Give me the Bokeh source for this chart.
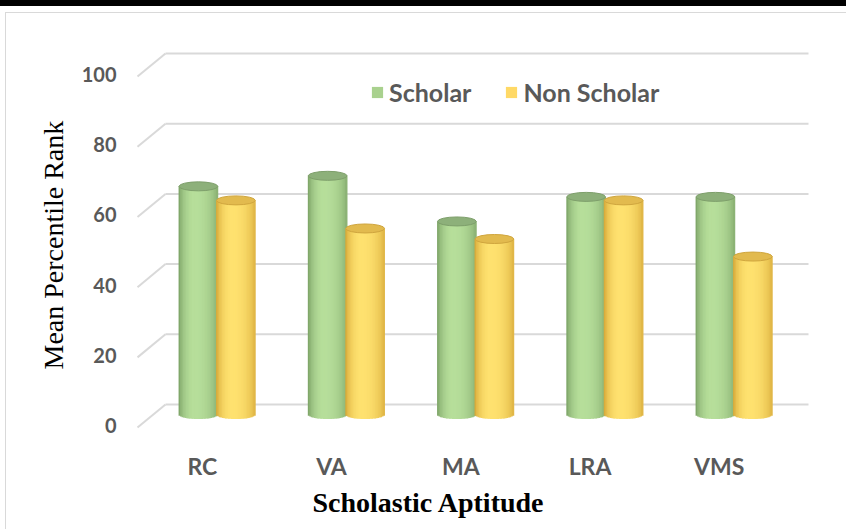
import numpy as np
from bokeh.plotting import figure
from bokeh.models import (Range1d, LinearAxis, FixedTicker, Legend, LegendItem,
                          ColumnDataSource, Title)
from bokeh.embed import file_html
from bokeh.resources import INLINE

# ---------------- data ----------------
categories = ["RC", "VA", "MA", "LRA", "VMS"]
scholar = [65, 68, 55, 62, 62]
non_scholar = [61, 53, 50, 61, 45]
series_names = ["Scholar", "Non Scholar"]
y_ticks = [0, 20, 40, 60, 80, 100]
x_title = "Scholastic Aptitude"
y_title = "Mean Percentile Rank"

# ---------------- geometry / style ----------------
W, H = 846, 529
frame_left, frame_right, frame_top, frame_bottom = 128, 846, 0, 445   # page px
x0_px, x_pitch = 216, 129.25        # page px of group 0 centre, px per category
y0_px, y_scale = 414, 3.51          # page px of value 0, px per unit

x_start = (frame_left - x0_px) / x_pitch
x_end = (frame_right - x0_px) / x_pitch
y_end = (y0_px - frame_top) / y_scale
y_start = (y0_px - frame_bottom) / y_scale

front_shift = 3.13    # front tick labels sit lower than the back wall
back_shift = 2.85     # back wall grid lines
label_shift = 0.11    # category labels shifted left (perspective)

bar_w = 0.30
offsets = [-0.14, 0.15]
light = [(183, 223, 155), (255, 226, 112)]
dark = [(112, 150, 92), (206, 156, 44)]
top_col = ["#8DB07A", "#E2BA4E"]
top_line = ["#7E9F6B", "#CFA53E"]
legend_col = ["#A9D18E", "#FFD966"]
cap_h = 9 / y_scale
n_strips = 26

p = figure(width=W, height=H,
           x_range=Range1d(x_start, x_end), y_range=Range1d(y_start, y_end),
           x_axis_location=None, y_axis_location=None,
           min_border_left=frame_left, min_border_right=0,
           min_border_top=0, min_border_bottom=H - frame_bottom,
           output_backend="svg", toolbar_location=None)
p.outline_line_color = None
p.grid.visible = False
p.border_fill_color = None
p.background_fill_color = None
p.styles = {"box-shadow": "inset 0 6px 0 0 #000000, inset 0 12px 0 0 #ffffff, "
                          "inset 5px 0 0 0 #ffffff, inset 0 13px 0 0 #d9d9d9, "
                          "inset 6px 0 0 0 #d9d9d9"}

# ---------------- back wall grid (perspective) ----------------
gx0 = (137 - x0_px) / x_pitch
gx1 = (165 - x0_px) / x_pitch
gx2 = (808 - x0_px) / x_pitch
gt = np.array(y_ticks, dtype=float)
p.segment(x0=[gx1] * len(gt), y0=gt + back_shift, x1=[gx2] * len(gt), y1=gt + back_shift,
          line_color="#D9D9D9", line_width=2)
p.segment(x0=[gx0] * len(gt), y0=gt - front_shift - 0.6, x1=[gx1] * len(gt), y1=gt + back_shift,
          line_color="#D9D9D9", line_width=2)

# ---------------- cylinders ----------------
def shade(t, k):
    s = np.cos(np.clip((t - 0.42) / (0.58 if t > 0.42 else 0.42), -1, 1) * np.pi / 2) ** 0.55
    if t > 0.42:
        s = 0.25 + 0.75 * s
    c = [int(dark[k][i] + (light[k][i] - dark[k][i]) * s) for i in range(3)]
    return "#%02x%02x%02x" % tuple(c)

legend_renderers = []
for k, vals in enumerate([scholar, non_scholar]):
    xs, tops, bottoms, cols = [], [], [], []
    for i, v in enumerate(vals):
        c = i + offsets[k]
        for j in range(n_strips):
            t = (j + 0.5) / n_strips
            xx = c - bar_w / 2 + t * bar_w
            xs.append(xx)
            tops.append(v)
            u = (xx - c) / (bar_w / 2)
            bottoms.append(-cap_h / 2 * np.sqrt(max(0.0, 1 - u * u)))
            cols.append(shade(t, k))
    src = ColumnDataSource(dict(x=xs, top=tops, bottom=bottoms, color=cols))
    p.vbar(x="x", top="top", bottom="bottom", width=bar_w / n_strips * 1.6,
           fill_color="color", line_color=None, source=src)
    p.ellipse(x=[i + offsets[k] for i in range(len(vals))], y=vals,
              width=bar_w, height=cap_h, fill_color=top_col[k],
              line_color=top_line[k], line_width=1)
    # legend swatch renderer (zero-height, invisible in the plot)
    r = p.vbar(x=[0], top=[0], bottom=[0], width=0.01, fill_color=legend_col[k], line_color=None)
    legend_renderers.append(r)

# ---------------- axes ----------------
p.extra_y_ranges = {"front": Range1d(y_start + front_shift, y_end + front_shift)}
p.extra_x_ranges = {"labels": Range1d(x_start + label_shift, x_end + label_shift)}

yax = LinearAxis(y_range_name="front", ticker=FixedTicker(ticks=y_ticks))
xax = LinearAxis(x_range_name="labels", ticker=FixedTicker(ticks=list(range(len(categories)))),
                 major_label_overrides={i: c for i, c in enumerate(categories)})
for ax in (yax, xax):
    ax.axis_line_color = None
    ax.major_tick_line_color = None
    ax.minor_tick_line_color = None
    ax.major_tick_in = 0
    ax.major_tick_out = 0
    ax.major_label_text_font = "Lato"
    ax.major_label_text_font_style = "bold"
    ax.major_label_text_color = "#595959"
yax.major_label_text_font_size = "20px"
yax.major_label_standoff = 12
xax.major_label_text_font_size = "23px"
xax.major_label_standoff = 6
p.add_layout(yax, "left")
p.add_layout(xax, "below")

p.add_layout(Title(text=y_title, align="left", offset=76, standoff=20,
                   text_font="Liberation Serif", text_font_size="28px",
                   text_font_style="normal", text_color="#000000"), "left")
p.add_layout(Title(text=x_title, align="left", offset=184, standoff=4,
                   text_font="Liberation Serif", text_font_size="28px",
                   text_font_style="bold", text_color="#000000"), "below")

# ---------------- legend ----------------
legend = Legend(items=[LegendItem(label=series_names[k], renderers=[legend_renderers[k]])
                       for k in range(2)],
                orientation="horizontal", location=(242, 338),
                border_line_color=None, background_fill_alpha=0,
                glyph_width=14, glyph_height=14, label_standoff=5, spacing=33,
                padding=0, margin=0,
                label_text_font="Lato", label_text_font_style="bold",
                label_text_font_size="25px", label_text_color="#595959")
p.add_layout(legend)

open("out.html", "w").write(file_html(p, INLINE))
